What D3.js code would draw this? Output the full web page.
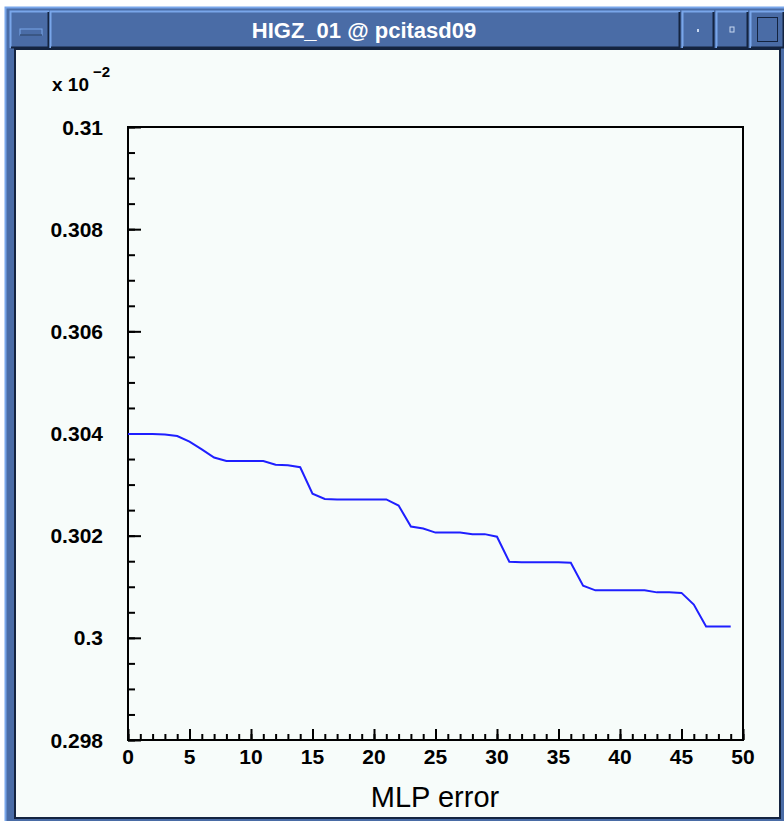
<!DOCTYPE html>
<html>
<head>
<meta charset="utf-8">
<script src="https://cdn.jsdelivr.net/npm/d3@7"></script>
<style>
  html, body { margin: 0; padding: 0; background: #ffffff; }
  svg { display: block; }
</style>
</head>
<body>
<svg id="win" width="784" height="821"></svg>
<script>
// Training curve: MLP error per epoch (values in units of 10^-2)
const windowTitle = "HIGZ_01 @ pcitasd09";
const xTitle = "MLP error";
const exponent = -2;
const epochs = d3.range(0, 50);
const errors = [
  0.30399, 0.30399, 0.30399, 0.30398, 0.30395, 0.30384, 0.30369, 0.30353, 0.30346, 0.30346,
  0.30346, 0.30346, 0.30339, 0.30338, 0.30334, 0.30282, 0.30272, 0.30271, 0.30271, 0.30271,
  0.30271, 0.30271, 0.30259, 0.30218, 0.30214, 0.30206, 0.30206, 0.30206, 0.30203, 0.30203,
  0.30198, 0.30149, 0.30148, 0.30148, 0.30148, 0.30148, 0.30147, 0.30102, 0.30093, 0.30093,
  0.30093, 0.30093, 0.30093, 0.30089, 0.30089, 0.30088, 0.30065, 0.30022, 0.30022, 0.30022
];
const xDomain = [0, 50];
const yDomain = [0.298, 0.31];
const xTickValues = [0, 5, 10, 15, 20, 25, 30, 35, 40, 45, 50];
const yTickValues = [0.298, 0.300, 0.302, 0.304, 0.306, 0.308, 0.310];
const yTickLabels = ["0.298", "0.3", "0.302", "0.304", "0.306", "0.308", "0.31"];

const svg = d3.select("#win");

// ---- window frame (X11 style) ----
const blue = "#4a6ca6", light = "#79a6ea", dark = "#142440";
svg.append("rect").attr("x", 5).attr("y", 7).attr("width", 779).attr("height", 814).attr("fill", blue);
// outer bevel
svg.append("path").attr("d", "M5.5,821 V7.5 H784").attr("stroke", light).attr("stroke-width", 2).attr("fill", "none");

function bevelBox(x, y, w, h) {
  svg.append("rect").attr("x", x).attr("y", y).attr("width", w).attr("height", h).attr("fill", blue);
  svg.append("path").attr("d", `M${x + 0.5},${y + h} V${y + 0.5} H${x + w}`)
    .attr("stroke", light).attr("stroke-width", 2).attr("fill", "none");
  svg.append("path").attr("d", `M${x + 1},${y + h - 0.5} H${x + w - 0.5} V${y + 1}`)
    .attr("stroke", dark).attr("stroke-width", 2).attr("fill", "none");
}
// left menu button, title area, right buttons
bevelBox(10, 11, 39, 37);
svg.append("rect").attr("x", 20).attr("y", 29).attr("width", 22).attr("height", 6)
  .attr("fill", blue).attr("stroke", light).attr("stroke-width", 1);
svg.append("line").attr("x1", 20).attr("x2", 42).attr("y1", 35).attr("y2", 35).attr("stroke", dark);
bevelBox(50, 11, 630, 37);
bevelBox(682, 11, 32, 37);
bevelBox(716, 11, 32, 37);
bevelBox(750, 11, 34, 37);
svg.append("rect").attr("x", 697).attr("y", 29).attr("width", 2).attr("height", 3).attr("fill", "#c8d8f0");
svg.append("rect").attr("x", 730).attr("y", 27).attr("width", 4).attr("height", 5).attr("fill", blue)
  .attr("stroke", "#c8d8f0").attr("stroke-width", 1);
svg.append("rect").attr("x", 757.5).attr("y", 17.5).attr("width", 20).attr("height", 24).attr("fill", "none")
  .attr("stroke", dark).attr("stroke-width", 1);
svg.append("text").attr("x", 364).attr("y", 38).attr("text-anchor", "middle")
  .attr("font-family", "Liberation Sans, Arial, sans-serif").attr("font-size", 22).attr("font-weight", "bold")
  .attr("fill", "#ffffff").text(windowTitle);

// client area
svg.append("rect").attr("x", 15).attr("y", 49).attr("width", 765).attr("height", 769)
  .attr("fill", "#f7fcfa").attr("stroke", dark).attr("stroke-width", 2);

// ---- chart ----
const plot = { left: 128, right: 743, top: 127, bottom: 740 };
const x = d3.scaleLinear().domain(xDomain).range([plot.left, plot.right]);
const y = d3.scaleLinear().domain(yDomain).range([plot.bottom, plot.top]);

const font = "Liberation Sans, Arial, Helvetica, sans-serif";

// frame
svg.append("rect").attr("x", plot.left).attr("y", plot.top)
  .attr("width", plot.right - plot.left).attr("height", plot.bottom - plot.top)
  .attr("fill", "none").attr("stroke", "#000").attr("stroke-width", 2);

// y axis: ticks point inward, minor every 0.0005
const yMinor = d3.range(0, 25).map(i => yDomain[0] + i * 0.0005);
const gy = svg.append("g").attr("transform", `translate(${plot.left},0)`);
gy.call(d3.axisRight(y).tickValues(yMinor).tickSize(7).tickFormat(""));
gy.append("g").call(d3.axisRight(y).tickValues(yTickValues).tickSize(13).tickFormat(""));
gy.selectAll(".domain").remove();
gy.selectAll("line").attr("stroke", "#000").attr("stroke-width", 2);

svg.append("g").selectAll("text").data(yTickValues).join("text")
  .attr("x", 103).attr("y", d => y(d) + 7.5)
  .attr("text-anchor", "end").attr("font-family", font).attr("font-weight", "bold")
  .attr("font-size", 21).attr("fill", "#000")
  .text((d, i) => yTickLabels[i]);

// exponent label
const expLabel = svg.append("text").attr("x", 52).attr("y", 91)
  .attr("font-family", font).attr("font-weight", "bold").attr("font-size", 19).attr("fill", "#000");
expLabel.append("tspan").text("x 10");
expLabel.append("tspan").attr("dx", 4).attr("dy", -14).attr("font-size", 15).text("\u2212" + Math.abs(exponent));

// x axis: ticks point inward, minor every 1
const gx = svg.append("g").attr("transform", `translate(0,${plot.bottom})`);
gx.call(d3.axisTop(x).tickValues(d3.range(0, 51)).tickSize(6).tickFormat(""));
gx.append("g").call(d3.axisTop(x).tickValues(xTickValues).tickSize(11).tickFormat(""));
gx.selectAll(".domain").remove();
gx.selectAll("line").attr("stroke", "#000").attr("stroke-width", 2);

svg.append("g").selectAll("text").data(xTickValues).join("text")
  .attr("x", d => x(d)).attr("y", 764)
  .attr("text-anchor", "middle").attr("font-family", font).attr("font-weight", "bold")
  .attr("font-size", 21).attr("fill", "#000").text(d => d);

svg.append("text").attr("x", 435).attr("y", 807).attr("text-anchor", "middle")
  .attr("font-family", font).attr("font-size", 29).attr("fill", "#000").text(xTitle);

// error curve
const line = d3.line().x((d, i) => x(epochs[i])).y(d => y(d));
svg.append("path").datum(errors).attr("d", line)
  .attr("fill", "none").attr("stroke", "#1f1fff").attr("stroke-width", 2);
</script>
</body>
</html>
